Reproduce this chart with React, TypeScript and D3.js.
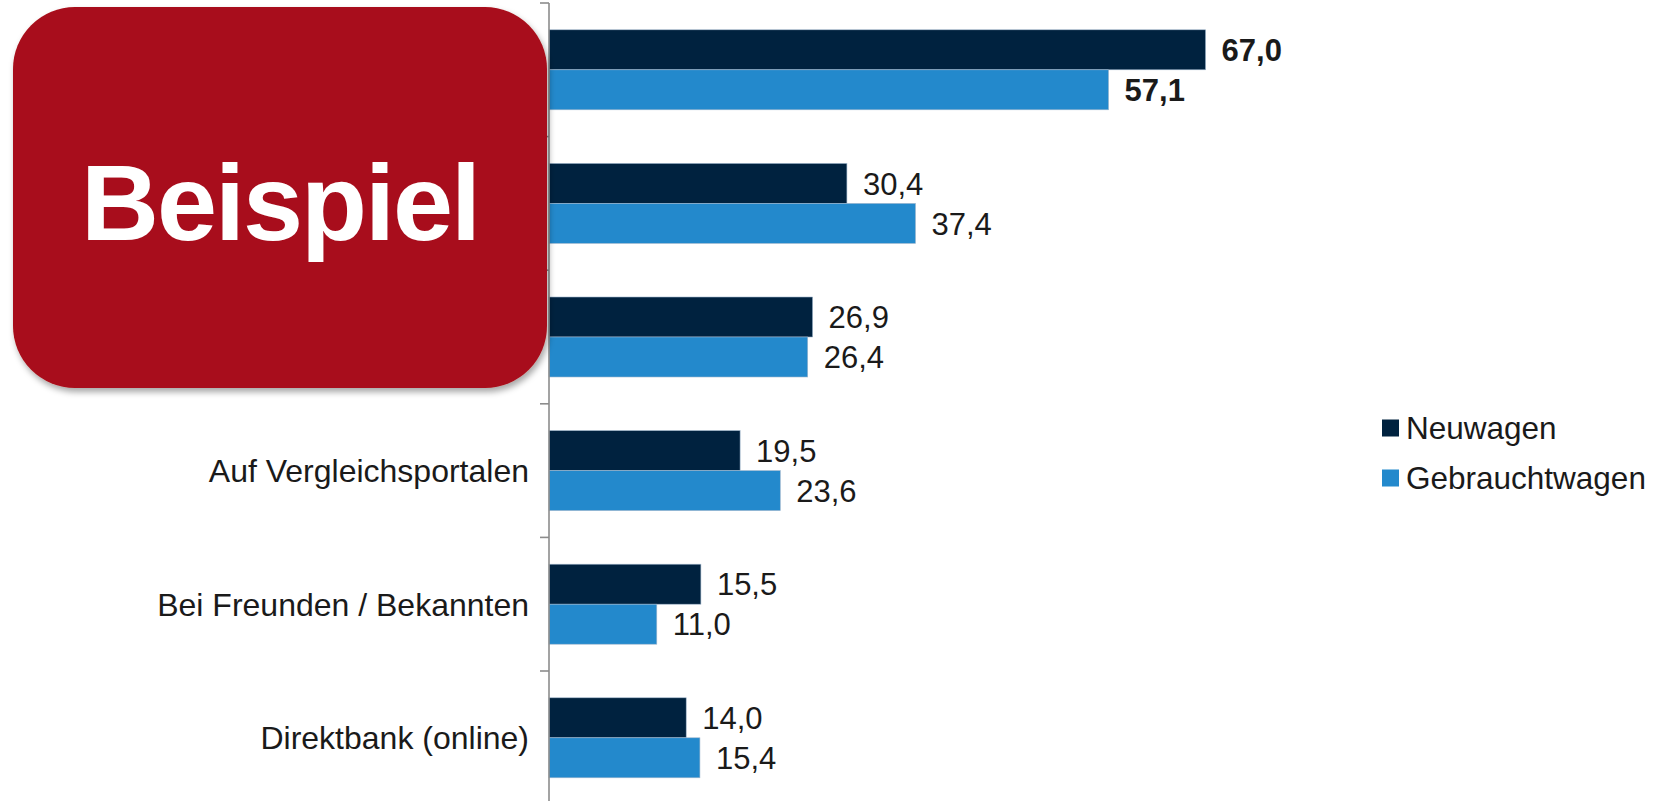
import React, { useEffect, useRef } from 'react';
import * as d3 from 'd3';

// Kategorien (die ersten drei liegen unter dem "Beispiel"-Kasten)
const categories = ['', '', '', 'Auf Vergleichsportalen', 'Bei Freunden / Bekannten', 'Direktbank (online)'];
const seriesNames = ['Neuwagen', 'Gebrauchtwagen'];
const neuwagen = [67.0, 30.4, 26.9, 19.5, 15.5, 14.0];
const gebrauchtwagen = [57.1, 37.4, 26.4, 23.6, 11.0, 15.4];
const boldCategory = 0;
const stampText = 'Beispiel';

const WIDTH = 1658;
const HEIGHT = 801;
const FONT = '"Liberation Sans", Arial, Helvetica, sans-serif';
const colors = ['#00223F', '#2389CC'];

const App: React.FC = () => {
  const svgRef = useRef<SVGSVGElement>(null);

  useEffect(() => {
    if (!svgRef.current) return;
    const svg = d3.select(svgRef.current);
    svg.selectAll('*').remove();

    const de = d3.formatLocale({ decimal: ',', thousands: '.', grouping: [3], currency: ['', ' €'] });
    const fmt = de.format('.1f');

    const axisX = 549;
    const bandH = 133.6;
    const top = 3;

    const x = d3.scaleLinear().domain([0, 70]).range([axisX, axisX + 70 * 9.8]);
    const y = d3.scaleBand<number>()
      .domain(d3.range(categories.length))
      .range([top, top + bandH * categories.length])
      .padding(0);
    const inner = d3.scaleBand<number>()
      .domain([0, 1])
      .range([26.8, bandH - 26.8])
      .padding(0);

    const values = [neuwagen, gebrauchtwagen];

    // Bars
    const g = svg.append('g');
    values.forEach((vals, s) => {
      g.selectAll(`rect.s${s}`)
        .data(vals)
        .enter()
        .append('rect')
        .attr('class', `s${s}`)
        .attr('x', x(0))
        .attr('y', (_, i) => (y(i) as number) + (inner(s) as number))
        .attr('width', d => x(d) - x(0))
        .attr('height', inner.bandwidth())
        .attr('fill', colors[s])
        .attr('stroke', '#9fb6cc')
        .attr('stroke-width', 0.6);

      g.selectAll(`text.s${s}`)
        .data(vals)
        .enter()
        .append('text')
        .attr('class', `s${s}`)
        .text(d => fmt(d))
        .attr('x', d => x(d) + 16)
        .attr('y', (_, i) => (y(i) as number) + (inner(s) as number) + inner.bandwidth() / 2)
        .attr('dy', '0.36em')
        .attr('font-family', FONT)
        .attr('font-size', 31)
        .attr('font-weight', (_, i) => (i === boldCategory ? 'bold' : 'normal'))
        .attr('fill', '#1a1a1a');
    });

    // Axis
    const axis = svg.append('g').attr('stroke', '#8c8c8c').attr('stroke-width', 1.6);
    axis.append('line')
      .attr('x1', axisX).attr('x2', axisX)
      .attr('y1', top).attr('y2', top + bandH * categories.length);
    axis.selectAll('line.tick')
      .data(d3.range(categories.length))
      .enter()
      .append('line')
      .attr('class', 'tick')
      .attr('x1', axisX - 9).attr('x2', axisX)
      .attr('y1', i => y(i) as number)
      .attr('y2', i => y(i) as number);

    // Category labels
    svg.append('g')
      .selectAll('text')
      .data(categories)
      .enter()
      .append('text')
      .text(d => d)
      .attr('x', axisX - 20)
      .attr('y', (_, i) => (y(i) as number) + bandH / 2)
      .attr('dy', '0.36em')
      .attr('text-anchor', 'end')
      .attr('font-family', FONT)
      .attr('font-size', 32)
      .attr('fill', '#1a1a1a');

    // Legend
    const legend = svg.append('g').attr('transform', 'translate(1382, 428)');
    seriesNames.forEach((name, s) => {
      const row = legend.append('g').attr('transform', `translate(0, ${s * 50})`);
      row.append('rect')
        .attr('x', 0).attr('y', -8.5)
        .attr('width', 17).attr('height', 17)
        .attr('fill', colors[s]);
      row.append('text')
        .text(name)
        .attr('x', 24)
        .attr('y', 0)
        .attr('dy', '0.36em')
        .attr('font-family', FONT)
        .attr('font-size', 31.5)
        .attr('fill', '#1a1a1a');
    });

    // "Beispiel" stamp
    const defs = svg.append('defs');
    const f = defs.append('filter').attr('id', 'shadow').attr('x', '-10%').attr('y', '-10%').attr('width', '120%').attr('height', '120%');
    f.append('feDropShadow')
      .attr('dx', 2).attr('dy', 4)
      .attr('stdDeviation', 3)
      .attr('flood-color', '#000')
      .attr('flood-opacity', 0.35);

    const stamp = svg.append('g');
    stamp.append('rect')
      .attr('x', 13).attr('y', 7)
      .attr('width', 534).attr('height', 381)
      .attr('rx', 62).attr('ry', 62)
      .attr('fill', '#A8111A')
      .attr('filter', 'url(#shadow)');
    stamp.append('text')
      .text(stampText)
      .attr('x', 280)
      .attr('y', 240)
      .attr('text-anchor', 'middle')
      .attr('font-family', FONT)
      .attr('font-weight', 'bold')
      .attr('font-size', 108)
      .attr('letter-spacing', -2)
      .attr('fill', '#ffffff');
  }, []);

  return (
    <svg
      ref={svgRef}
      width={WIDTH}
      height={HEIGHT}
      style={{ position: 'absolute', left: 0, top: 0, background: '#fff' }}
    />
  );
};

export default App;
